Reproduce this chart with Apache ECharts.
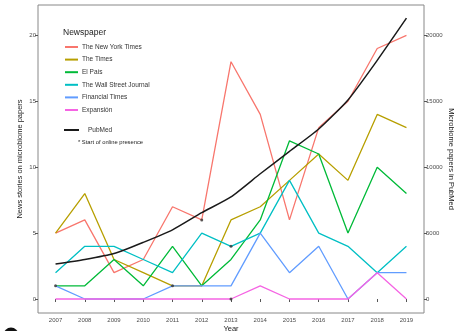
<!DOCTYPE html>
<html>
<head>
<meta charset="utf-8">
<script src="https://cdn.jsdelivr.net/npm/echarts@6/dist/echarts.min.js"></script>
<style>
  html, body { margin: 0; padding: 0; background: #fff; }
  #main { width: 454px; height: 331px; }
</style>
</head>
<body>
<div id="main"></div>
<script>
// data
var years = [2007, 2008, 2009, 2010, 2011, 2012, 2013, 2014, 2015, 2016, 2017, 2018, 2019]
var nyt = [5, 6, 2, 3, 7, 6, 18, 14, 6, 13, 15, 19, 20]
var theTimes = [5, 8, 3, 2, 1, 1, 6, 7, 9, 11, 9, 14, 13]
var elPais = [1, 1, 3, 1, 4, 1, 3, 6, 12, 11, 5, 10, 8]
var wsj = [2, 4, 4, 3, 2, 5, 4, 5, 9, 5, 4, 2, 4]
var ft = [1, 0, 0, 0, 1, 1, 1, 5, 2, 4, 0, 2, 2]
var expansion = [0, 0, 0, 0, 0, 0, 0, 1, 0, 0, 0, 2, 0]
var pubmed = [2650, 3000, 3450, 4300, 5250, 6550, 7750, 9500, 11200, 12900, 15100, 18100, 21300]
// * start of online presence markers
var onlineYears = [2007, 2011, 2012, 2013, 2013]
var onlineValues = [1, 1, 6, 4, 0]

var leftTicks = [0, 5, 10, 15, 20]
var rightTicks = [0, 5000, 10000, 15000, 20000]

var newspapers = ['The New York Times', 'The Times', 'El País', 'The Wall Street Journal', 'Financial Times', 'Expansión']
var colors = ['#F8766D', '#B79F00', '#00BA38', '#00BFC4', '#619CFF', '#F564E3']
var values = [nyt, theTimes, elPais, wsj, ft, expansion]

function pairs(xs, ys) {
  return xs.map(function (x, i) { return [x, ys[i]] })
}

var chart = echarts.init(document.getElementById('main'))

var series = newspapers.map(function (name, i) {
  return {
    name: name,
    type: 'line',
    yAxisIndex: 0,
    data: pairs(years, values[i]),
    showSymbol: false,
    symbol: 'none',
    lineStyle: { color: colors[i], width: 1.3 },
    itemStyle: { color: colors[i] },
    silent: true
  }
})
series.push({
  name: 'PubMed',
  type: 'line',
  yAxisIndex: 1,
  data: pairs(years, pubmed),
  showSymbol: false,
  symbol: 'none',
  smooth: 0.2,
  lineStyle: { color: '#1a1a1a', width: 1.5 },
  itemStyle: { color: '#1a1a1a' },
  z: 3
})
series.push({
  name: 'online',
  type: 'scatter',
  yAxisIndex: 0,
  data: pairs(onlineYears, onlineValues),
  symbolSize: 3,
  itemStyle: { color: '#333' },
  z: 4
})

var tickLabel = { color: '#4d4d4d', fontSize: 6, fontFamily: 'Liberation Sans' }
var nameText = { color: '#222', fontSize: 7.5, fontFamily: 'Liberation Sans' }
var plain = function (v) { return String(v) }

var option = {
  animation: false,
  grid: {
    left: 38, right: 30, top: 5, bottom: 18,
    outerBoundsMode: 'none',
    containLabel: false,
    show: true, borderColor: '#888', borderWidth: 1
  },
  xAxis: {
    type: 'value',
    min: 2006.4,
    max: 2019.6,
    name: 'Year',
    nameLocation: 'middle',
    nameGap: 12,
    nameMoveOverlap: false,
    nameTextStyle: nameText,
    splitLine: { show: false },
    axisLine: { show: false },
    axisTick: { show: true, length: 3, lineStyle: { color: '#555' }, customValues: years },
    axisLabel: Object.assign({ margin: 4, customValues: years, formatter: plain }, tickLabel)
  },
  yAxis: [
    {
      type: 'value',
      min: -1.06,
      max: 22.3,
      name: 'News stories on microbiome papers',
      nameLocation: 'middle',
      nameRotate: 90,
      nameGap: 14,
      nameMoveOverlap: false,
      nameTextStyle: nameText,
      splitLine: { show: false },
      axisLine: { show: false },
      axisTick: { show: true, length: 3, lineStyle: { color: '#555' }, customValues: leftTicks },
      axisLabel: Object.assign({ margin: 2, customValues: leftTicks, formatter: plain }, tickLabel)
    },
    {
      type: 'value',
      position: 'right',
      min: -1060,
      max: 22300,
      name: 'Microbiome papers in PubMed',
      nameLocation: 'middle',
      nameRotate: -90,
      nameGap: 23,
      nameMoveOverlap: false,
      nameTextStyle: nameText,
      splitLine: { show: false },
      axisLine: { show: false },
      axisTick: { show: true, length: 3, lineStyle: { color: '#555' }, customValues: rightTicks },
      axisLabel: Object.assign({ margin: 2, customValues: rightTicks, formatter: plain }, tickLabel)
    }
  ],
  legend: [
    {
      data: newspapers,
      orient: 'vertical',
      left: 65,
      top: 43,
      padding: 0,
      itemWidth: 13,
      itemHeight: 2,
      itemGap: 4.6,
      icon: 'rect',
      selectedMode: false,
      textStyle: { color: '#333', fontSize: 6.5, fontFamily: 'Liberation Sans', lineHeight: 8, padding: [0, 0, 0, -1] }
    },
    {
      data: ['PubMed'],
      orient: 'vertical',
      left: 64,
      top: 126,
      padding: 0,
      itemWidth: 15,
      itemHeight: 2,
      itemGap: 6,
      icon: 'rect',
      selectedMode: false,
      textStyle: { color: '#333', fontSize: 6.5, fontFamily: 'Liberation Sans', lineHeight: 8, padding: [0, 0, 0, 4] }
    }
  ],
  graphic: [
    {
      type: 'text', left: 63, top: 28,
      style: { text: 'Newspaper', fill: '#222', fontSize: 8.5, fontFamily: 'Liberation Sans' }
    },
    {
      type: 'text', left: 78, top: 139,
      style: { text: '* Start of online presence', fill: '#222', fontSize: 5.8, fontFamily: 'Liberation Sans' }
    },
    {
      type: 'circle', shape: { cx: 11, cy: 335, r: 7.5 },
      style: { fill: '#111' }
    }
  ],
  series: series
}

option && chart.setOption(option)
</script>
</body>
</html>
